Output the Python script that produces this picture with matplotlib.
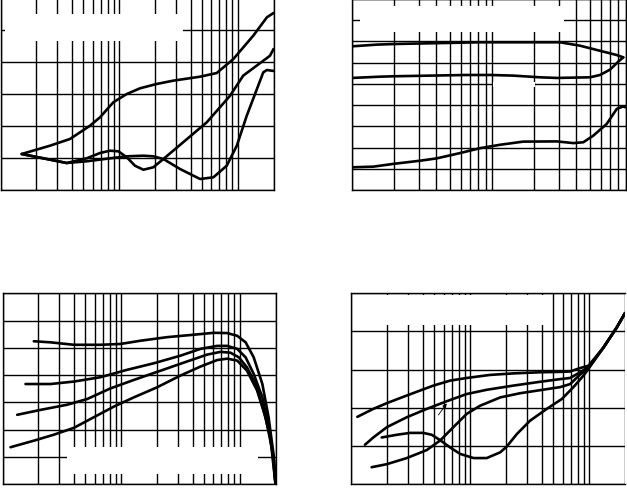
import matplotlib
matplotlib.use("Agg")
import matplotlib.pyplot as plt
from matplotlib.patches import Rectangle

# ---------------- data ----------------
# Panel 1 (top-left)
p1_a_x = [1.51, 2.61, 3.85, 5.68, 6.90, 8.93, 11.6, 15.0, 20.7, 28.5, 48.1, 66.5, 91.8, 135, 176, 200]
p1_a_y = [1.125, 1.384, 1.594, 2.009, 2.272, 2.741, 3.0, 3.178, 3.313, 3.416, 3.541, 3.656, 4.094, 4.822, 5.397, 5.531]
p1_b_x = [1.51, 3.61, 5.33, 6.90, 8.38, 9.85, 11.6, 13.6, 16.0, 19.4, 23.6, 54.8, 86.1, 111, 187, 200]
p1_b_y = [1.125, 0.844, 0.99, 1.156, 1.228, 1.209, 1.022, 0.759, 0.634, 0.709, 0.969, 2.116, 2.947, 3.572, 4.197, 4.406]
p1_c_x = [1.51, 3.61, 5.33, 8.38, 11.6, 16.0, 19.4, 23.6, 32.6, 48.1, 62.3, 80.7, 98.1, 119, 145, 164, 176, 200]
p1_c_y = [1.125, 0.844, 0.897, 0.99, 1.053, 1.072, 1.053, 0.969, 0.656, 0.344, 0.397, 0.759, 1.384, 2.322, 3.156, 3.678, 3.75, 3.72]

# Panel 2 (top-right)
p2_t_x = [1.0, 1.50, 2.03, 8.21, 19.7, 30.6, 42.5, 59.1, 77.8, 86.6]
p2_t_y = [6.77, 6.85, 6.88, 6.96, 6.96, 6.96, 6.80, 6.56, 6.36, 6.25]
p2_m_x = [1.0, 1.585, 2.03, 6.59, 9.68, 14.2, 22.0, 29.0, 50.1, 59.1, 69.6, 79.8, 86.6]
p2_m_y = [5.28, 5.34, 5.36, 5.42, 5.42, 5.39, 5.31, 5.28, 5.31, 5.42, 5.67, 6.05, 6.25]
p2_b_x = [1.0, 1.42, 1.97, 3.06, 4.03, 5.91, 8.21, 11.4, 16.7, 29.0, 38.1, 44.9, 52.9, 65.9, 77.8, 86.6, 89.1]
p2_b_y = [1.07, 1.10, 1.23, 1.38, 1.49, 1.74, 1.97, 2.13, 2.28, 2.29, 2.21, 2.25, 2.56, 3.11, 3.82, 3.94, 3.90]

# Panel 3 (bottom-left)
p3_1_x = [1.836, 2.54, 3.99, 6.70, 9.87, 14.6, 24.4, 41.0, 60.4, 78.3, 95.1, 112, 131, 155, 175, 194, 200]
p3_1_y = [5.24, 5.20, 5.11, 5.11, 5.14, 5.26, 5.39, 5.48, 5.55, 5.54, 5.44, 5.20, 4.65, 3.67, 2.44, 0.98, 0.0]
p3_2_x = [1.563, 2.54, 3.99, 6.70, 11.2, 18.8, 31.6, 46.6, 64.5, 78.3, 95.1, 112, 131, 155, 175, 194, 200]
p3_2_y = [3.67, 3.67, 3.76, 3.92, 4.19, 4.43, 4.71, 4.96, 5.07, 5.07, 4.96, 4.65, 4.04, 3.18, 2.08, 0.86, 0.0]
p3_3_x = [1.33, 2.09, 3.51, 5.18, 8.13, 12.8, 21.5, 36.1, 53.1, 68.8, 83.5, 98.1, 115, 136, 159, 181, 200]
p3_3_y = [2.54, 2.72, 2.91, 3.12, 3.51, 3.82, 4.16, 4.50, 4.75, 4.85, 4.82, 4.65, 4.28, 3.67, 2.69, 1.71, 0.0]
p3_4_x = [1.168, 1.836, 2.71, 3.99, 5.88, 8.67, 12.8, 20.1, 31.6, 46.6, 64.5, 78.3, 95.1, 115, 140, 165, 188, 200]
p3_4_y = [1.35, 1.59, 1.81, 2.06, 2.45, 2.84, 3.18, 3.55, 3.98, 4.31, 4.55, 4.60, 4.53, 4.16, 3.43, 2.45, 1.22, 0.0]

# Panel 4 (bottom-right)
p4_a_x = [1.13, 1.54, 2.00, 2.94, 4.92, 6.79, 9.38, 14.7, 23.1, 38.7, 57.0, 69.2, 84.0, 98.6, 132, 171, 200]
p4_a_y = [1.76, 1.97, 2.12, 2.32, 2.58, 2.71, 2.78, 2.86, 2.90, 2.93, 2.94, 2.95, 3.04, 3.10, 3.58, 4.11, 4.48]
p4_b_x = [1.31, 1.54, 2.00, 2.94, 4.33, 6.37, 9.38, 13.8, 23.1, 38.7, 57.0, 69.2, 84.0, 98.6, 132, 171, 200]
p4_b_y = [1.03, 1.22, 1.49, 1.75, 1.97, 2.17, 2.36, 2.47, 2.58, 2.68, 2.75, 2.78, 2.93, 3.06, 3.58, 4.11, 4.48]
p4_c_x = [1.49, 2.00, 2.94, 4.33, 5.60, 7.24, 9.38, 12.1, 17.9, 26.3, 38.7, 57.0, 69.2, 84.0, 98.6, 132, 171, 200]
p4_c_y = [0.44, 0.52, 0.68, 0.89, 1.14, 1.49, 1.84, 2.05, 2.27, 2.38, 2.46, 2.54, 2.62, 2.87, 3.04, 3.58, 4.11, 4.48]
p4_d_x = [1.81, 2.42, 3.13, 4.05, 4.77, 5.60, 6.79, 8.24, 10.7, 13.8, 17.9, 20.3, 24.7, 31.9, 44.1, 59.0, 73.8, 89.5, 98.6, 132, 171, 200]
p4_d_y = [1.22, 1.29, 1.34, 1.34, 1.29, 1.15, 0.96, 0.79, 0.68, 0.68, 0.83, 0.98, 1.31, 1.66, 1.97, 2.23, 2.54, 2.84, 3.02, 3.58, 4.11, 4.48]
p4_arrow = [(5.25, 1.75), (6.57, 2.17)]

# ---------------- figure ----------------
W, H = 627, 489
fig = plt.figure(figsize=(W / 100, H / 100), dpi=100)
fig.patch.set_facecolor("white")


def pos(x0, y0, x1, y1):
    return [x0 / W, 1 - y1 / H, (x1 - x0) / W, (y1 - y0) / H]


LW_GRID = 1.0
LW_CURVE = 1.9


def make_ax(rect, xlim, ylim, hide_right=False):
    ax = fig.add_axes(rect)
    ax.set_xscale("log")
    ax.set_xlim(*xlim)
    ax.set_ylim(*ylim)
    ax.set_yticks(range(int(ylim[0]), int(ylim[1]) + 1))
    ax.grid(True, which="both", axis="x", color="black", linewidth=LW_GRID)
    ax.grid(True, which="major", axis="y", color="black", linewidth=LW_GRID)
    ax.set_axisbelow(True)
    ax.tick_params(which="both", length=0, labelbottom=False, labelleft=False)
    for s in ax.spines.values():
        s.set_linewidth(LW_GRID)
        s.set_color("black")
    if hide_right:
        ax.spines["right"].set_visible(False)
    return ax


ax1 = make_ax(pos(0.5, -1, 273.5, 191), (1, 200), (0, 6))
for xs, ys in [(p1_a_x, p1_a_y), (p1_b_x, p1_b_y), (p1_c_x, p1_c_y)]:
    ax1.plot(xs, ys, color="black", lw=LW_CURVE, solid_capstyle="round", solid_joinstyle="round")

ax2 = make_ax(pos(352, 0, 625.6, 191), (1, 90), (0, 9))
for xs, ys in [(p2_t_x, p2_t_y), (p2_m_x, p2_m_y), (p2_b_x, p2_b_y)]:
    ax2.plot(xs, ys, color="black", lw=LW_CURVE, solid_capstyle="round", solid_joinstyle="round")

ax3 = make_ax(pos(2.5, 294.3, 275.5, 485), (1, 200), (0, 7))
for xs, ys in [(p3_1_x, p3_1_y), (p3_2_x, p3_2_y), (p3_3_x, p3_3_y), (p3_4_x, p3_4_y)]:
    ax3.plot(xs, ys, color="black", lw=LW_CURVE, solid_capstyle="round", solid_joinstyle="round",
             clip_on=True)

ax4 = make_ax(pos(351, 294.3, 625, 485), (1, 200), (0, 5), hide_right=True)
for xs, ys in [(p4_a_x, p4_a_y), (p4_b_x, p4_b_y), (p4_c_x, p4_c_y), (p4_d_x, p4_d_y)]:
    ax4.plot(xs, ys, color="black", lw=LW_CURVE, solid_capstyle="round", solid_joinstyle="round")
ax4.annotate("", xy=p4_arrow[1], xytext=p4_arrow[0],
             arrowprops=dict(arrowstyle="-|>", color="black", lw=0.6, mutation_scale=6))

# erased label areas (white blocks over the grid)
blanks = [(5, 15, 183, 42), (360, 7, 564, 33), (493, 83, 535, 88),
          (67, 448, 258, 475), (352.5, 295.8, 551, 326)]
for x0, y0, x1, y1 in blanks:
    fig.add_artist(Rectangle((x0 / W, 1 - y1 / H), (x1 - x0) / W, (y1 - y0) / H,
                             transform=fig.transFigure, facecolor="white",
                             edgecolor="none", zorder=10))

fig.savefig("out.png", dpi=100, facecolor="white")
